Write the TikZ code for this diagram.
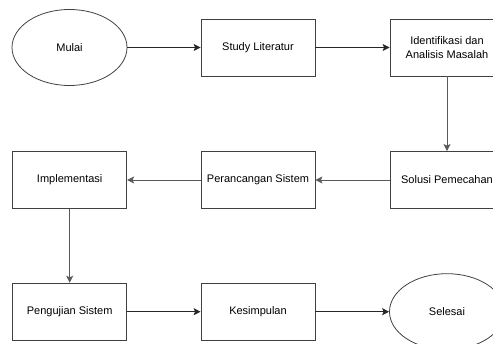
\documentclass[tikz,border=0pt]{standalone}
\usepackage{fontspec}
\setmainfont{Liberation Sans}
\usetikzlibrary{arrows.meta,shapes.geometric}
\begin{document}
\begin{tikzpicture}[x=1pt,y=1pt,
  box/.style={draw=black!75,line width=0.8pt,rectangle,minimum width=114pt,minimum height=57pt,inner sep=0pt,align=center,font=\fontsize{11}{13.5}\selectfont},
  oval/.style={draw=black!75,line width=0.8pt,ellipse,minimum width=115pt,minimum height=76pt,inner sep=0pt,font=\fontsize{11}{13.5}\selectfont},
  conn/.style={draw=black!85,line width=0.8pt,-{Stealth[length=7pt,width=7pt,inset=1.5pt]}},
  lconn/.style={conn,draw=black!65}]
\useasboundingbox (0,0) rectangle (493,344);
\begin{scope}
\clip (0,0) rectangle (493,344);
\node[oval] (mulai) at (69.5,296.5) {Mulai};
\node[box] (study) at (258,296.5) {Study Literatur};
\node[box] (ident) at (447,296.5) {Identifikasi dan\\Analisis Masalah};
\node[box] (solusi) at (447,164) {Solusi Pemecahan};
\node[box] (peranc) at (258,164) {Perancangan Sistem};
\node[box] (impl) at (69.7,164) {Implementasi};
\node[box] (uji) at (69.7,32.3) {Pengujian Sistem};
\node[box] (kesim) at (258,32.3) {Kesimpulan};
\node[oval] (selesai) at (447,32.3) {Selesai};
\draw[conn] (mulai) -- (study);
\draw[conn] (study) -- (ident);
\draw[lconn] (ident) -- (solusi);
\draw[lconn] (solusi) -- (peranc);
\draw[lconn] (peranc) -- (impl);
\draw[lconn] (impl) -- (uji);
\draw[conn] (uji) -- (kesim);
\draw[conn] (kesim) -- (selesai);
\end{scope}
\end{tikzpicture}
\end{document}
